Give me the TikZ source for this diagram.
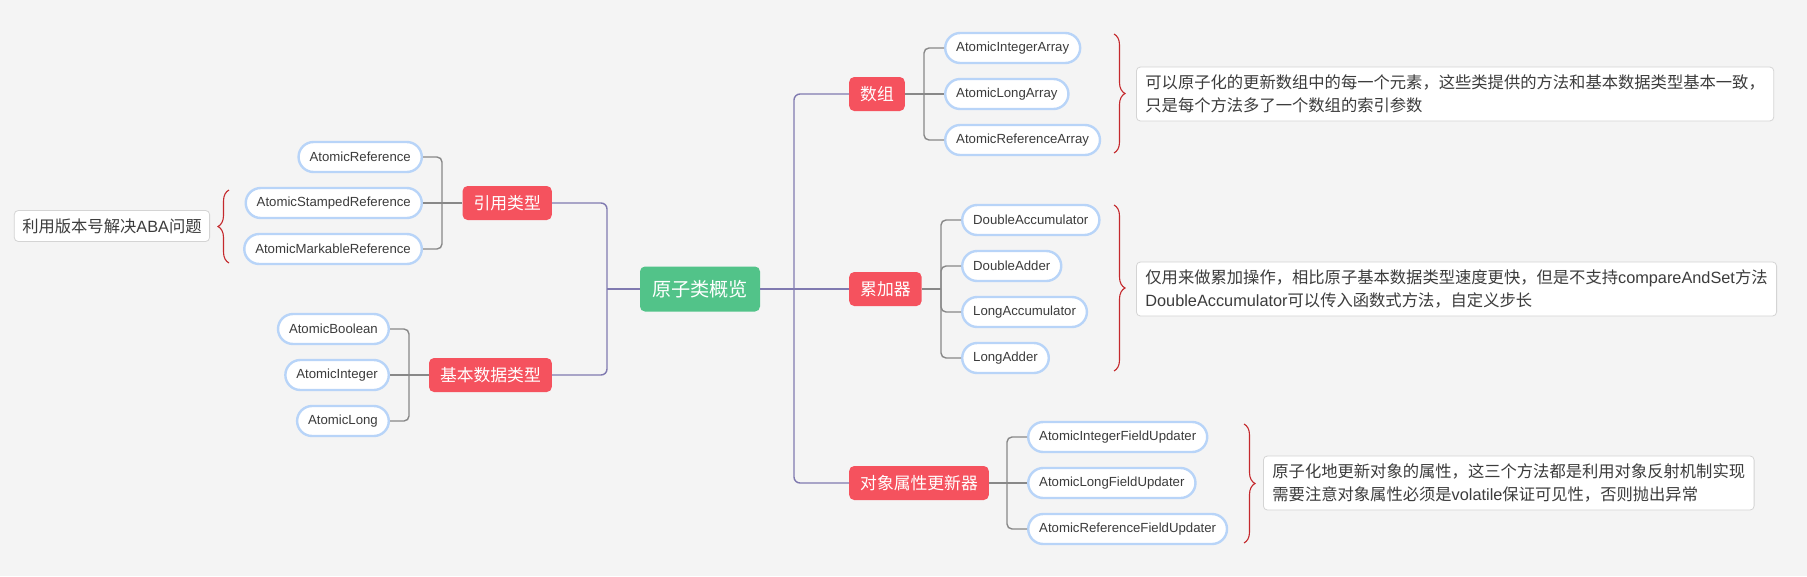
\documentclass[tikz,border=0pt]{standalone}
\usepackage{fontspec}
\setmainfont{Noto Sans CJK SC}
\newfontfamily\lat{Liberation Sans}
\usetikzlibrary{decorations.pathreplacing}

\definecolor{bgGray}{RGB}{244,244,244}
\definecolor{rootGreen}{RGB}{82,195,137}
\definecolor{topicRed}{RGB}{245,82,94}
\definecolor{pillBlue}{RGB}{184,212,248}
\definecolor{trunkPurple}{RGB}{128,122,176}
\definecolor{branchGray}{RGB}{136,136,136}
\definecolor{braceRed}{RGB}{196,40,44}
\definecolor{noteEdge}{RGB}{212,212,212}
\definecolor{textGray}{RGB}{60,60,60}

\begin{document}
\begin{tikzpicture}[x=1pt, y=-1pt,
    rootbox/.style={fill=rootGreen, text=white, rounded corners=5pt, inner xsep=12pt, minimum height=45pt, font=\fontsize{19.2}{23}\selectfont},
    topic/.style={fill=topicRed, text=white, rounded corners=5pt, inner xsep=11pt, minimum height=34pt, font=\fontsize{16.8}{20}\selectfont},
    pill/.style={draw=pillBlue, line width=2.4pt, fill=white, text=textGray, rounded corners=15pt, inner xsep=11pt, minimum height=30pt, font=\lat\fontsize{13.2}{16}\selectfont},
    note/.style={draw=noteEdge, line width=0.8pt, fill=white, text=textGray, rounded corners=4pt, align=left, inner xsep=9pt, minimum height=54pt, font=\fontsize{16.3}{23.5}\selectfont},
    trunk/.style={draw=trunkPurple, line width=1.4pt, rounded corners=6pt},
    branch/.style={draw=branchGray, line width=1.4pt, rounded corners=5pt},
    curly/.style={draw=braceRed, line width=1.1pt, decorate, decoration={brace, amplitude=11pt}}
]
    % Canvas
    \fill[bgGray] (0,0) rectangle (1807,576);

    % Central topic
    \node[rootbox] (root) at (700,289) {原子类概览};

    % Main topics, left side
    \node[topic, anchor=east] (ref) at (552,203) {引用类型};
    \node[topic, anchor=east] (basic) at (552,375) {基本数据类型};

    % Main topics, right side
    \node[topic, anchor=west] (arr) at (849,94) {数组};
    \node[topic, anchor=west] (acc) at (849,289) {累加器};
    \node[topic, anchor=west] (upd) at (849,483) {对象属性更新器};

    % Trunk lines from the central topic
    \coordinate (rootL) at (607,289);
    \coordinate (rootR) at (794,289);
    \draw[trunk] (root.west) -- (rootL);
    \draw[trunk] (rootL) |- (ref.east);
    \draw[trunk] (rootL) |- (basic.east);
    \draw[trunk] (root.east) -- (rootR);
    \draw[trunk] (rootR) |- (arr.west);
    \draw[trunk] (rootR) -- (acc.west);
    \draw[trunk] (rootR) |- (upd.west);

    % Reference types
    \node[pill, anchor=east] (aref) at (423,157) {AtomicReference};
    \node[pill, anchor=east] (astamp) at (423,203) {AtomicStampedReference};
    \node[pill, anchor=east] (amark) at (423,249) {AtomicMarkableReference};
    \coordinate (refT) at (442,203);
    \draw[branch] (ref.west) -- (refT);
    \draw[branch] (refT) |- (aref.east);
    \draw[branch] (refT) -- (astamp.east);
    \draw[branch] (refT) |- (amark.east);

    % Basic data types
    \node[pill, anchor=east] (abool) at (390,329) {AtomicBoolean};
    \node[pill, anchor=east] (aint) at (390,375) {AtomicInteger};
    \node[pill, anchor=east] (along) at (390,421) {AtomicLong};
    \coordinate (basicT) at (409,375);
    \draw[branch] (basic.west) -- (basicT);
    \draw[branch] (basicT) |- (abool.east);
    \draw[branch] (basicT) -- (aint.east);
    \draw[branch] (basicT) |- (along.east);

    % Arrays
    \node[pill, anchor=west] (aia) at (944,48) {AtomicIntegerArray};
    \node[pill, anchor=west] (ala) at (944,94) {AtomicLongArray};
    \node[pill, anchor=west] (ara) at (944,140) {AtomicReferenceArray};
    \coordinate (arrT) at (924,94);
    \draw[branch] (arr.east) -- (arrT);
    \draw[branch] (arrT) |- (aia.west);
    \draw[branch] (arrT) -- (ala.west);
    \draw[branch] (arrT) |- (ara.west);

    % Accumulators
    \node[pill, anchor=west] (dacc) at (961,220) {DoubleAccumulator};
    \node[pill, anchor=west] (dadd) at (961,266) {DoubleAdder};
    \node[pill, anchor=west] (lacc) at (961,312) {LongAccumulator};
    \node[pill, anchor=west] (ladd) at (961,358) {LongAdder};
    \coordinate (accT) at (941,289);
    \draw[branch] (acc.east) -- (accT);
    \draw[branch] (accT) |- (dacc.west);
    \draw[branch] (accT) |- (dadd.west);
    \draw[branch] (accT) |- (lacc.west);
    \draw[branch] (accT) |- (ladd.west);

    % Field updaters
    \node[pill, anchor=west] (aifu) at (1027,437) {AtomicIntegerFieldUpdater};
    \node[pill, anchor=west] (alfu) at (1027,483) {AtomicLongFieldUpdater};
    \node[pill, anchor=west] (arfu) at (1027,529) {AtomicReferenceFieldUpdater};
    \coordinate (updT) at (1007,483);
    \draw[branch] (upd.east) -- (updT);
    \draw[branch] (updT) |- (aifu.west);
    \draw[branch] (updT) -- (alfu.west);
    \draw[branch] (updT) |- (arfu.west);

    % Summary braces and notes
    \draw[curly] (229,263) -- (229,190);
    \node[note, anchor=east, minimum height=31pt, inner xsep=8pt] (refNote) at (210,226) {利用版本号解决{\lat ABA}问题};

    \draw[curly] (1114,34) -- (1114,153);
    \node[note, anchor=west] (arrNote) at (1136,94) {可以原子化的更新数组中的每一个元素，这些类提供的方法和基本数据类型基本一致，\\只是每个方法多了一个数组的索引参数};

    \draw[curly] (1114,205) -- (1114,371);
    \node[note, anchor=west] (accNote) at (1136,289) {仅用来做累加操作，相比原子基本数据类型速度更快，但是不支持{\lat compareAndSet}方法\\{\lat DoubleAccumulator}可以传入函数式方法，自定义步长};

    \draw[curly] (1244,424) -- (1244,543);
    \node[note, anchor=west] (updNote) at (1263,483) {原子化地更新对象的属性，这三个方法都是利用对象反射机制实现\\需要注意对象属性必须是{\lat volatile}保证可见性，否则抛出异常};
\end{tikzpicture}
\end{document}
